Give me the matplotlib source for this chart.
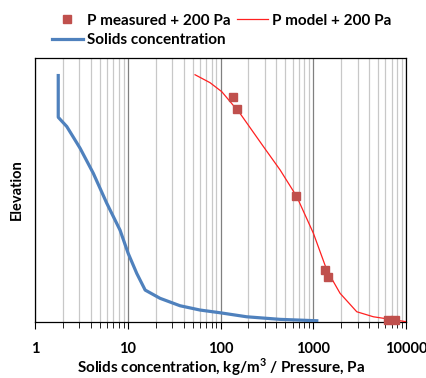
import matplotlib
matplotlib.use('Agg')
import matplotlib.pyplot as plt
from matplotlib.ticker import LogLocator, NullFormatter, FixedLocator, FixedFormatter
from matplotlib.lines import Line2D

# solids concentration profile (kg/m3 vs elevation)
conc = [1.78, 1.78, 2.20, 3.06, 4.25, 5.93, 8.25, 10.1, 12.5, 15.4, 22.3, 36.6, 60.1, 98.8, 191, 438, 1090]
conc_elev = [93.3, 77.5, 74.0, 65.8, 56.3, 45.0, 34.8, 26.0, 18.4, 12.1, 8.98, 6.17, 4.55, 3.52, 2.0, 1.02, 0.49]

# measured pressure + 200 Pa
p_meas = [135, 152, 651, 1339, 1432, 6440, 7590]
p_meas_elev = [85.3, 80.6, 47.7, 19.7, 16.9, 0.76, 0.76]

# model pressure + 200 Pa
p_model = [53.1, 77, 103, 162, 290, 438, 663, 1002, 1397, 1941, 2940, 4440, 10180]
p_model_elev = [93.6, 90.6, 87.2, 79, 66.4, 57.6, 47.5, 33.6, 19.7, 10.9, 3.9, 2.0, 0.1]

xticks = [1, 10, 100, 1000, 10000]
xtick_labels = ['1', '10', '100', '1000', '10000']

plt.rcParams['font.family'] = ['Lato', 'DejaVu Sans']
fs = 11

fig = plt.figure(figsize=(4.27, 3.78), dpi=100)
ax = fig.add_axes([0.082, 0.148, 0.869, 0.699])

ax.plot(conc, conc_elev, color='#4F81BD', lw=2.3, zorder=3)
ax.plot(p_model, p_model_elev, color='#FF2020', lw=0.9, zorder=3)
ax.plot(p_meas, p_meas_elev, 's', color='#C0504D', ms=6, zorder=4, clip_on=False)

ax.set_xscale('log')
ax.set_xlim(1, 10000)
ax.set_ylim(0, 100)

ax.xaxis.set_major_locator(FixedLocator(xticks))
ax.xaxis.set_major_formatter(FixedFormatter(xtick_labels))
ax.xaxis.set_minor_locator(LogLocator(base=10, subs=range(2, 10)))
ax.xaxis.set_minor_formatter(NullFormatter())
ax.set_yticks([])

ax.grid(True, which='minor', axis='x', color='#C8C8C8', lw=0.9)
ax.grid(True, which='major', axis='x', color='#808080', lw=0.9)
ax.tick_params(axis='x', which='both', direction='out', color='black')
ax.tick_params(axis='x', which='major', length=5, labelsize=fs - 0.5, pad=9)
ax.tick_params(axis='x', which='minor', length=4)
for lbl in ax.get_xticklabels():
    lbl.set_fontweight('bold')

for s in ax.spines.values():
    s.set_color('black')
    s.set_linewidth(0.9)

ax.set_xlabel('Solids concentration, kg/m$^\\mathregular{3}$ / Pressure, Pa',
              fontsize=fs, fontweight='bold', labelpad=1)
ax.set_ylabel('Elevation', fontsize=fs - 0.5, fontweight='bold', labelpad=8)

handles = [
    Line2D([], [], ls='none', marker='s', color='#C0504D', ms=6),
    Line2D([], [], color='#4F81BD', lw=2.3),
    Line2D([], [], color='#FF2020', lw=0.9),
]
labels = ['P measured + 200 Pa', 'Solids concentration', 'P model + 200 Pa']
leg = fig.legend(handles, labels, ncol=2, loc='upper left', bbox_to_anchor=(0.09, 1.0),
                 frameon=False, handlelength=2.0, handletextpad=0.3, columnspacing=0.4,
                 labelspacing=0.35, prop={'weight': 'bold', 'size': fs})

fig.savefig('out.png', dpi=100)
